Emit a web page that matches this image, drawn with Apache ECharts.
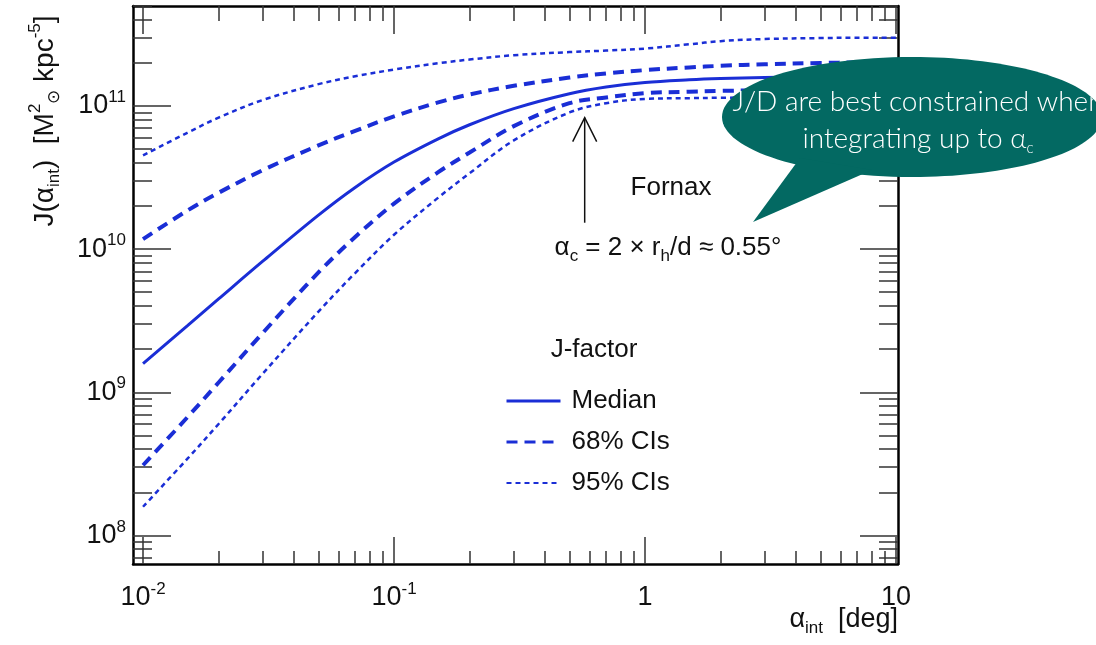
<!DOCTYPE html>
<html>
<head>
<meta charset="utf-8">
<title>Fornax J-factor</title>
<script src="https://cdn.jsdelivr.net/npm/echarts@6/dist/echarts.min.js"></script>
<style>
html,body{margin:0;padding:0;background:#fff;}
#main{width:1096px;height:645px;}
</style>
</head>
<body>
<div id="main"></div>
<script>
// integration angle alpha_int [deg]
var alphaInt = [0.01, 0.015, 0.02, 0.03, 0.05, 0.07, 0.1, 0.15, 0.2, 0.3, 0.5, 0.7, 1, 1.5, 2, 3, 5, 7, 10];
// J(alpha_int) [Msun^2 kpc^-5]
var jMedian = [1.585e9, 2.91e9, 4.49e9, 8.24e9, 1.73e10, 2.70e10, 4.06e10, 5.90e10, 7.40e10, 9.59e10, 1.219e11, 1.358e11, 1.459e11, 1.524e11, 1.556e11, 1.585e11, 1.603e11, 1.611e11, 1.614e11];
var j68Up = [1.175e10, 1.858e10, 2.477e10, 3.565e10, 5.31e10, 6.71e10, 8.47e10, 1.06e11, 1.205e11, 1.384e11, 1.581e11, 1.69e11, 1.782e11, 1.862e11, 1.91e11, 1.959e11, 2.0e11, 2.018e11, 2.028e11];
var j68Lo = [3.09e8, 6.67e8, 1.17e9, 2.6e9, 6.87e9, 1.216e10, 2.08e10, 3.45e10, 4.73e10, 7.24e10, 1.047e11, 1.148e11, 1.23e11, 1.259e11, 1.276e11, 1.288e11, 1.297e11, 1.297e11, 1.297e11];
var j95Up = [4.52e10, 6.5e10, 8.3e10, 1.102e11, 1.422e11, 1.614e11, 1.799e11, 1.991e11, 2.113e11, 2.265e11, 2.382e11, 2.44e11, 2.52e11, 2.70e11, 2.84e11, 2.94e11, 2.985e11, 3.0e11, 3.0e11];
var j95Lo = [1.585e8, 3.42e8, 6.0e8, 1.35e9, 3.66e9, 6.81e9, 1.26e10, 2.29e10, 3.39e10, 5.75e10, 9.02e10, 1.047e11, 1.122e11, 1.135e11, 1.143e11, 1.148e11, 1.148e11, 1.148e11, 1.148e11];

// axes (log10 space)
var xMin = -2.04, xMax = 1.008;
var yMin = 7.80, yMax = 11.699;
var xMajor = [-2, -1, 0, 1];
var yMajor = [8, 9, 10, 11];
var xTickLabels = ['{b|10}{s|-2}', '{b|10}{s|-1}', '{b|1}', '{b|10}'];
var yTickLabels = ['{b|10}{s|8}', '{b|10}{s|9}', '{b|10}{s|10}', '{b|10}{s|11}'];

// alpha_c arrow: [deg, J from, J to]
var alphaC = 0.575;
var arrowJ = [1.53e10, 8.3e10];

var FONT = '"Liberation Sans", Arial, Helvetica, sans-serif';
var BLUE = '#1a2ed6';

function minorTicks(lo, hi) {
	var out = [];
	for (var d = Math.floor(lo); d <= Math.ceil(hi); d++) {
		for (var k = 2; k <= 9; k++) {
			var v = d + Math.log10(k);
			if (v > lo && v < hi) out.push(v);
		}
	}
	return out;
}
function toXY(js) {
	return alphaInt.map(function (a, i) { return [Math.log10(a), Math.log10(js[i])]; });
}
function fmt(values, labels) {
	return function (v) {
		for (var i = 0; i < values.length; i++) {
			if (Math.abs(values[i] - v) < 1e-6) return labels[i];
		}
		return '';
	};
}
var richTick = {
	b: {fontSize: 27, fontFamily: FONT, color: '#111', lineHeight: 34},
	s: {fontSize: 17, fontFamily: FONT, color: '#111', lineHeight: 17, verticalAlign: 'top'}
};

function axis(pos, mn, mx, ticks, len, showLine, labelVals, labelTxt, margin) {
	return {
		type: 'value', position: pos, min: mn, max: mx,
		splitLine: {show: false},
		axisLine: {show: showLine, onZero: false, lineStyle: {color: '#000', width: 2.5}},
		axisTick: {show: true, inside: true, length: len, customValues: ticks,
			lineStyle: {color: '#333', width: 1.5}},
		axisLabel: labelVals ? {
			show: true, customValues: labelVals, formatter: fmt(labelVals, labelTxt),
			margin: margin, rich: richTick
		} : {show: false}
	};
}

var xMinor = minorTicks(xMin, xMax);
var yMinor = minorTicks(yMin, yMax);

var chart = echarts.init(document.getElementById('main'));

function curve(name, js, width, type) {
	return {name: name, type: 'line', data: toXY(js), symbol: 'none', showSymbol: false, smooth: 0.35,
		lineStyle: {color: BLUE, width: width, type: type}, itemStyle: {color: BLUE}};
}

var option = {
	animation: false,
	grid: {left: 133, right: 198, top: 6, bottom: 81},
	xAxis: [
		axis('bottom', xMin, xMax, xMajor, 27, true, xMajor, xTickLabels, 17),
		axis('bottom', xMin, xMax, xMinor, 13, false),
		axis('top', xMin, xMax, xMajor, 28, true),
		axis('top', xMin, xMax, xMinor, 15, false)
	],
	yAxis: [
		axis('left', yMin, yMax, yMajor, 38, true, yMajor, yTickLabels, 7),
		axis('left', yMin, yMax, yMinor, 19, false),
		axis('right', yMin, yMax, yMajor, 38, true),
		axis('right', yMin, yMax, yMinor, 19, false)
	],
	legend: {
		data: [
			{name: 'Median', lineStyle: {width: 3}},
			{name: '68% CIs', lineStyle: {width: 3}},
			{name: '95% CIs', lineStyle: {width: 2}}
		],
		orient: 'vertical', left: 500, top: 383,
		itemWidth: 54, itemHeight: 30, itemGap: 15,
		selectedMode: false,
		itemStyle: {opacity: 0},
		textStyle: {fontSize: 26, fontFamily: FONT, color: '#111', padding: [0, 0, 0, 6]}
	},
	series: [
		curve('Median', jMedian, 3, 'solid'),
		curve('68% CIs', j68Up, 4, [11, 7]),
		curve('68% CIs', j68Lo, 4, [11, 7]),
		curve('95% CIs', j95Up, 2.5, [5, 4]),
		curve('95% CIs', j95Lo, 2.5, [5, 4]),
		{
			name: 'alpha_c', type: 'custom', silent: true,
			data: [[Math.log10(alphaC), Math.log10(arrowJ[0]), Math.log10(arrowJ[1])]],
			renderItem: function (params, api) {
				var p0 = api.coord([api.value(0), api.value(1)]);
				var p1 = api.coord([api.value(0), api.value(2)]);
				return {type: 'group', children: [
					{type: 'line', shape: {x1: p0[0], y1: p0[1], x2: p1[0], y2: p1[1]},
						style: {stroke: '#111', lineWidth: 1.5}},
					{type: 'polyline', shape: {points: [[p1[0] - 12, p1[1] + 24], [p1[0], p1[1]], [p1[0] + 12, p1[1] + 24]]},
						style: {stroke: '#111', fill: null, lineWidth: 1.5}}
				]};
			}
		}
	],
	graphic: [
		{type: 'text', rotation: Math.PI / 2, x: 45, y: 121,
			style: {
				text: 'J(α{s|int})  [M{p|2}{s|⊙} kpc{p|-5}]',
				font: '28px ' + FONT, fill: '#111', align: 'center', verticalAlign: 'middle',
				rich: {
					s: {fontSize: 17, fontFamily: FONT, lineHeight: 17, verticalAlign: 'bottom'},
					p: {fontSize: 17, fontFamily: FONT, lineHeight: 17, verticalAlign: 'top'}
				},
				lineHeight: 36
			}},
		{type: 'text', x: 898, y: 620,
			style: {
				text: 'α{s|int}  [deg]',
				font: '27px ' + FONT, fill: '#111', align: 'right', verticalAlign: 'middle', lineHeight: 34,
				rich: {s: {fontSize: 17, fontFamily: FONT, lineHeight: 17, verticalAlign: 'bottom'}}
			}},
		{type: 'text', x: 671, y: 188,
			style: {text: 'Fornax', font: '26px ' + FONT, fill: '#111', align: 'center', verticalAlign: 'middle'}},
		{type: 'text', x: 668, y: 248,
			style: {
				text: 'α{s|c} = 2 × r{s|h}/d ≈ 0.55°',
				font: '26px ' + FONT, fill: '#111', align: 'center', verticalAlign: 'middle', lineHeight: 34,
				rich: {s: {fontSize: 17, fontFamily: FONT, lineHeight: 17, verticalAlign: 'bottom'}}
			}},
		{type: 'text', x: 594, y: 350,
			style: {text: 'J-factor', font: '26px ' + FONT, fill: '#111', align: 'center', verticalAlign: 'middle'}},
		// speech bubble
		{type: 'ellipse', z: 100, shape: {cx: 912, cy: 117, rx: 190, ry: 60}, style: {fill: '#036962'}},
		{type: 'polygon', z: 100, shape: {points: [[800, 158], [872, 170], [753, 222]]}, style: {fill: '#036962'}},
		{type: 'text', z: 101, x: 918, y: 102,
			style: {text: 'J/D are best constrained when', font: '300 28px Lato, "Open Sans", sans-serif',
				fill: '#fff', align: 'center', verticalAlign: 'middle'}},
		{type: 'text', z: 101, x: 918, y: 139,
			style: {text: 'integrating up to α{s|c}', font: '300 28px Lato, "Open Sans", sans-serif',
				fill: '#fff', align: 'center', verticalAlign: 'middle', lineHeight: 34,
				rich: {s: {fontSize: 15, fontWeight: 300, fontFamily: 'Lato, sans-serif', lineHeight: 15, verticalAlign: 'bottom'}}}}
	]
};
chart.setOption(option);
</script>
</body>
</html>
